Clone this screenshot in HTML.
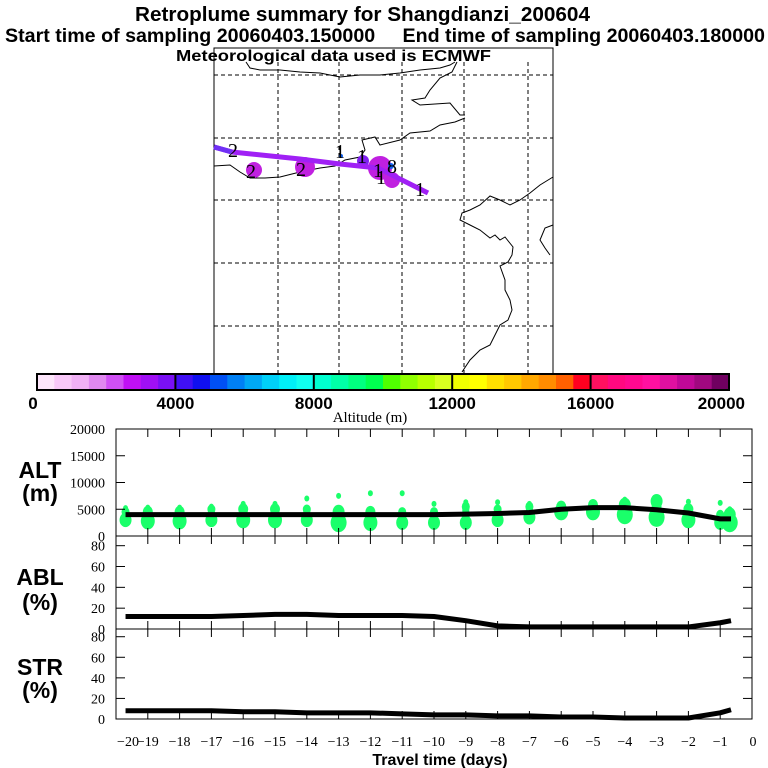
<!DOCTYPE html>
<html><head><meta charset="utf-8"><style>
body{margin:0;background:#fff;width:768px;height:768px;overflow:hidden}
svg{display:block}
.t{font-family:"Liberation Sans",sans-serif;font-weight:bold}
.s{font-family:"Liberation Serif",serif}
</style></head><body>
<svg id="c" width="768" height="768" viewBox="0 0 768 768" xmlns="http://www.w3.org/2000/svg">
<text class="t" x="135" y="21" font-size="20" textLength="455" lengthAdjust="spacingAndGlyphs">Retroplume summary for Shangdianzi_200604</text>
<text class="t" x="5" y="42" font-size="19" textLength="760" lengthAdjust="spacingAndGlyphs" xml:space="preserve">Start time of sampling 20060403.150000     End time of sampling 20060403.180000</text>
<text class="t" x="176" y="61" font-size="16" textLength="315" lengthAdjust="spacingAndGlyphs">Meteorological data used is ECMWF</text>

<g id="map">
<rect x="214" y="48" width="339" height="326" fill="none" stroke="#000" stroke-width="1"/>
<g stroke="#000" stroke-dasharray="4,3" stroke-width="1">
<line x1="214" y1="75" x2="553" y2="75"/><line x1="214" y1="138" x2="553" y2="138"/><line x1="214" y1="200" x2="553" y2="200"/><line x1="214" y1="263" x2="553" y2="263"/><line x1="214" y1="326" x2="553" y2="326"/>
<line x1="278" y1="62" x2="278" y2="374"/><line x1="339" y1="62" x2="339" y2="374"/><line x1="402" y1="62" x2="402" y2="374"/><line x1="464" y1="62" x2="464" y2="374"/><line x1="528" y1="62" x2="528" y2="374"/>
</g>
<g fill="none" stroke="#000" stroke-width="1">
<path d="M246,62 L250,68 260,70 280,70 300,72 320,73 340,77 360,75 380,75 400,73 420,70 440,68 450,65 455,62"/>
<path d="M457,62 L452,72 440,78 430,90 425,98 412,100 420,105 450,103 460,115 465,115"/>
<path d="M214,166 L230,165 240,172 250,178 265,178 280,177 300,172 320,168 335,166 345,160 360,157 365,150 362,140 375,137 380,145 400,140 410,133 430,131 440,125 455,122 465,118"/>
<path d="M553,177 L540,185 530,193 520,200 510,205 500,200 490,196 480,205 470,210 462,213 460,220 470,225 480,230 490,238 495,235 500,240 505,237 513,247 512,255 508,262 500,266 505,280 505,290 510,300 512,310 508,320 500,325 495,335 490,345 480,350 470,360 462,372"/>
<path d="M553,225 L545,228 540,240 545,248 550,255"/>
</g>
<g>
<circle cx="254" cy="170" r="8" fill="#c020e0"/>
<circle cx="305" cy="167" r="10" fill="#c020e0"/>
<circle cx="363" cy="161" r="6" fill="#8020f0"/>
<circle cx="380" cy="168" r="12" fill="#c020e0"/>
<circle cx="392" cy="180" r="8" fill="#c020e0"/>
<circle cx="391" cy="166" r="3" fill="#1060f0"/>
<circle cx="341" cy="156" r="2" fill="#1060f0"/>
<polyline points="214,147 232,152 300,159 340,164 378,168 428,193" fill="none" stroke="#a020f5" stroke-width="5"/>
<polyline points="214,147 232,152" fill="none" stroke="#7030f5" stroke-width="5"/>
</g>
<g class="s" font-size="20">
<text x="228" y="157">2</text><text x="246" y="178">2</text><text x="296" y="176">2</text><text x="335" y="158">1</text><text x="357" y="163">1</text><text x="373" y="177">1</text><text x="387" y="173">8</text><text x="376" y="184">1</text><text x="415" y="196">1</text>
</g>
</g>

<g id="cbar"></g>
<text class="s" x="370" y="422" font-size="15" text-anchor="middle">Altitude (m)</text>

<g id="panels"></g>
<text class="t" x="440" y="765" font-size="16" text-anchor="middle">Travel time (days)</text>
</svg>
<script>
const NS="http://www.w3.org/2000/svg";
const svg=document.getElementById('c');
function mk(tag,attrs,parent){const e=document.createElementNS(NS,tag);for(const k in attrs)e.setAttribute(k,attrs[k]);(parent||svg).appendChild(e);return e;}

// colorbar
const cbColors=["#fde6fb","#f8c8f8","#f0b0f5","#e088f0","#d050f5","#c010f5","#a010f5","#7a10f5","#4010f5","#1010f0","#0050f5","#0080f5","#00a8f5","#00d0f8","#00f0f8","#10fff0","#00ffd0","#00ffa8","#00ff80","#00ff50","#50ff00","#90ff00","#b8ff00","#d8ff20","#f0ff00","#ffff00","#ffe000","#ffc800","#ffa800","#ff8c00","#ff6000","#ff0020","#ff1060","#ff0880","#ff0890","#ff10a0","#e010a0","#c00898","#a00880","#700060"];
const cbTicks=[0,4000,8000,12000,16000,20000];
const cb=document.getElementById('cbar');
const cbx=v=>37+v/20000*692;
cbColors.forEach((c,i)=>{const r=mk('rect',{x:cbx(i*500),y:374,width:cbx(500)-cbx(0)+0.5,height:16,fill:c},cb);

});
mk('rect',{x:37,y:374,width:692,height:16,fill:'none',stroke:'#000','stroke-width':2},cb);
cbTicks.forEach(v=>{if(v>0&&v<20000)mk('line',{x1:cbx(v),y1:374,x2:cbx(v),y2:390,stroke:'#000','stroke-width':2},cb);
const t=mk('text',{x:v==0?33:(v==20000?745:cbx(v)),y:409,'font-size':17,'text-anchor':v==0?'middle':(v==20000?'end':'middle'),class:'t'},cb);t.textContent=v;

});

// time series data
const days=[-19.7,-19,-18,-17,-16,-15,-14,-13,-12,-11,-10,-9,-8,-7,-6,-5,-4,-3,-2,-1,-0.66];
const altMean=[4000,4000,4000,4000,4000,4000,4000,4000,4000,4000,4000,4100,4200,4400,5000,5300,5300,4900,4300,3200,3200];
const ablPct=[12,12,12,12,13,14,14,13,13,13,12,8,3,2,2,2,2,2,2,6,8];
const strPct=[8,8,8,8,7,7,6,6,6,5,4,4,3,3,2,2,1,1,1,6,9];
const xTickLabels=[-20,-19,-18,-17,-16,-15,-14,-13,-12,-11,-10,-9,-8,-7,-6,-5,-4,-3,-2,-1,0];
// plume altitude blobs per day
const blobDays=[-19.7,-19,-18,-17,-16,-15,-14,-13,-12,-11,-10,-9,-8,-7,-6,-5,-4,-3,-2,-1,-0.7];
const blobLow=[3000,2800,2800,3000,3000,3000,3000,2500,2500,2500,2500,2500,3000,3500,4500,4500,4000,3500,3000,2500,2500];
const blobMid=[4500,4500,4500,5000,5000,5000,5000,4500,4500,4500,4500,5500,5000,5500,5500,5800,5800,6500,5000,4000,4000];
const blobHigh=[5200,5300,5300,5500,6000,6000,7000,7500,8000,8000,6000,6300,6300,6000,5700,6000,6800,7000,6400,6200,5000];
const blobSize=[5,6,6,5,6,6,5,7,6,5,5,5,5,5,6,6,7,7,6,5,7];

const X=d=>116+(d+20)*31.8;
const P=document.getElementById('panels');
const panels=[{name:'alt',top:429,bot:536,max:20000,ticks:[0,5000,10000,15000,20000],title:['ALT','(m)'],ty:[478,501],data:altMean},
{name:'abl',top:536,bot:629,max:89.3,ticks:[0,20,40,60,80],title:['ABL','(%)'],ty:[585,610],data:ablPct},
{name:'str',top:629,bot:719,max:87.5,ticks:[0,20,40,60,80],title:['STR','(%)'],ty:[675,698],data:strPct}];
panels.forEach(p=>{
 const g=mk('g',{},P);
 
 
 const Y=v=>p.bot-v/p.max*(p.bot-p.top);
 if(p.name==='alt'){
  blobDays.forEach((d,i)=>{
   [[blobLow[i],blobSize[i]+1],[blobMid[i],blobSize[i]-1],[blobHigh[i],2.5]].forEach(b=>{
    const e=mk('ellipse',{cx:X(d),cy:Y(b[0]),rx:b[1],ry:b[1]*1.2,fill:'#1aff6a'},g);
    
    });
   const l=mk('line',{x1:X(d),y1:Y(blobLow[i]),x2:X(d),y2:Y(blobMid[i]),stroke:'#1aff6a','stroke-width':blobSize[i]*1.4},g);
   
   
  });
 }
 mk('rect',{x:116,y:p.top,width:636,height:p.bot-p.top,fill:'none',stroke:'#000','stroke-width':1},g);
 for(let d=-19;d<=-1;d++){mk('line',{x1:X(d),y1:p.bot,x2:X(d),y2:p.bot-8,stroke:'#000'},g);mk('line',{x1:X(d),y1:p.top,x2:X(d),y2:p.top+8,stroke:'#000'},g);}
 p.ticks.forEach(v=>{if(v>0&&v<p.max){mk('line',{x1:116,y1:Y(v),x2:125,y2:Y(v),stroke:'#000'},g);mk('line',{x1:743,y1:Y(v),x2:752,y2:Y(v),stroke:'#000'},g);}
  const t=mk('text',{x:105,y:Y(v)+5,'font-size':14,'text-anchor':'end',class:'s'},g);t.textContent=v;
  
  });
 p.title.forEach((s,i)=>{const t=mk('text',{x:40,y:p.ty[i],'font-size':23,'text-anchor':'middle',class:'t'},g);t.textContent=s;
  
  });
 const pl=mk('polyline',{points:days.map((d,i)=>X(d)+','+Y(p.data[i])).join(' '),fill:'none',stroke:'#000','stroke-width':5,'stroke-linejoin':'round'},g);
 
 
});
xTickLabels.forEach(d=>{const t=mk('text',{x:d==0?753:X(d)+(d==-20?12:0),y:746,'font-size':14,'text-anchor':'middle',class:'s'},P);t.textContent=d<0?'\u2212'+(-d):d;
 
 });
</script>
</body></html>
